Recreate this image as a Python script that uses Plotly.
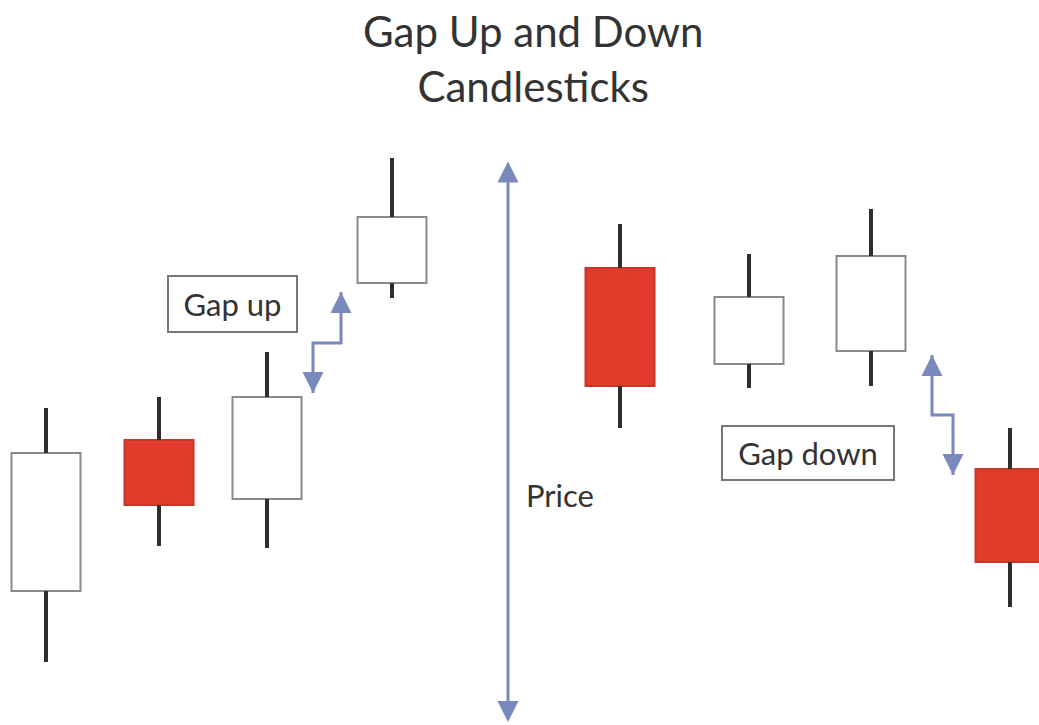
import plotly.graph_objects as go

# ---- data (price units; x = session position) ----
session_x = [46, 159, 267, 392, 620, 749, 871, 1010]
open_p  = [134, 285, 226, 442, 457, 361, 374, 256]
high_p  = [317, 328, 373, 567, 501, 471, 516, 297]
low_p   = [63, 179, 177, 427, 297, 337, 339, 118]
close_p = [272, 220, 328, 508, 339, 428, 469, 163]

# annotation guides
price_axis_x = 508
price_axis_span = [3, 565]
gap_up_path_x = [313, 313, 341, 341]
gap_up_path_y = [332, 382, 382, 433]
gap_down_path_x = [932, 932, 953, 953]
gap_down_path_y = [370, 310, 310, 250]

title_text = "Gap Up and Down<br>Candlesticks"
label_gap_up = "Gap up"
label_gap_down = "Gap down"
label_price = "Price"

RED = "#e33b2b"
RED_EDGE = "#c8362a"
WHITE_EDGE = "#8a8a8a"
WICK = "#2e2e2e"
ARROW = "#7a89bb"
TEXT = "#333333"
FONT = "Lato"

body_w = 69

fig = go.Figure()

# wicks (above and below the body)
wx, wy = [], []
for x, o, h, l, c in zip(session_x, open_p, high_p, low_p, close_p):
    top, bot = max(o, c), min(o, c)
    wx += [x, x, None, x, x, None]
    wy += [h, top, None, bot, l, None]
fig.add_trace(go.Scatter(x=wx, y=wy, mode="lines",
                         line=dict(color=WICK, width=4), hoverinfo="skip"))

# bodies
bases = [min(o, c) for o, c in zip(open_p, close_p)]
heights = [abs(c - o) for o, c in zip(open_p, close_p)]
fills = ["white" if c >= o else RED for o, c in zip(open_p, close_p)]
edges = [WHITE_EDGE if c >= o else RED_EDGE for o, c in zip(open_p, close_p)]
fig.add_trace(go.Bar(x=session_x, y=heights, base=bases, width=body_w,
                     marker=dict(color=fills, line=dict(color=edges, width=2))))

# zigzag gap arrows (shafts)
for px, py in [(gap_up_path_x, gap_up_path_y), (gap_down_path_x, gap_down_path_y)]:
    fig.add_trace(go.Scatter(x=px, y=py, mode="lines",
                             line=dict(color=ARROW, width=3), hoverinfo="skip"))

annotations = []
# arrow heads for gap arrows
def head(x, y, up):
    return dict(x=x, y=y, xref="x", yref="y", ax=0, ay=(16 if up else -16),
                showarrow=True, arrowhead=2, arrowsize=1.4, arrowwidth=3,
                arrowcolor=ARROW, text="")

annotations.append(head(gap_up_path_x[-1], gap_up_path_y[-1], True))
annotations.append(head(gap_up_path_x[0], gap_up_path_y[0], False))
annotations.append(head(gap_down_path_x[0], gap_down_path_y[0], True))
annotations.append(head(gap_down_path_x[-1], gap_down_path_y[-1], False))

# price axis arrow
annotations.append(dict(x=price_axis_x, y=price_axis_span[0], ax=price_axis_x,
                        ay=price_axis_span[1], xref="x", yref="y", axref="x", ayref="y",
                        showarrow=True, arrowhead=2, arrowside="end+start",
                        arrowsize=1.4, arrowwidth=3, arrowcolor=ARROW, text=""))

# title
annotations.append(dict(x=533, y=667, xref="x", yref="y", text=title_text,
                        showarrow=False, font=dict(family=FONT, size=42, color=TEXT),
                        xanchor="center", yanchor="middle"))
# labels
annotations.append(dict(x=232.5, y=421, xref="x", yref="y", text=label_gap_up,
                        showarrow=False, font=dict(family=FONT, size=31, color=TEXT),
                        bordercolor="#777777", borderwidth=2, bgcolor="white",
                        width=127, height=54, borderpad=0))
annotations.append(dict(x=808, y=272, xref="x", yref="y", text=label_gap_down,
                        showarrow=False, font=dict(family=FONT, size=31, color=TEXT),
                        bordercolor="#777777", borderwidth=2, bgcolor="white",
                        width=170, height=52, borderpad=0))
annotations.append(dict(x=524, y=230, xref="x", yref="y", text=label_price,
                        showarrow=False, font=dict(family=FONT, size=31, color=TEXT),
                        xanchor="left", yanchor="middle"))

fig.update_layout(
    width=1039, height=725,
    margin=dict(l=0, r=0, t=0, b=0),
    paper_bgcolor="white", plot_bgcolor="white",
    showlegend=False,
    hovermode=False,
    xaxis=dict(range=[0, 1039], visible=False, fixedrange=True),
    yaxis=dict(range=[0, 725], visible=False, fixedrange=True),
    annotations=annotations,
)

fig.write_html("out.html",
               config={"displayModeBar": False},
               post_script="document.body.style.margin='0';document.body.style.overflow='hidden';")
